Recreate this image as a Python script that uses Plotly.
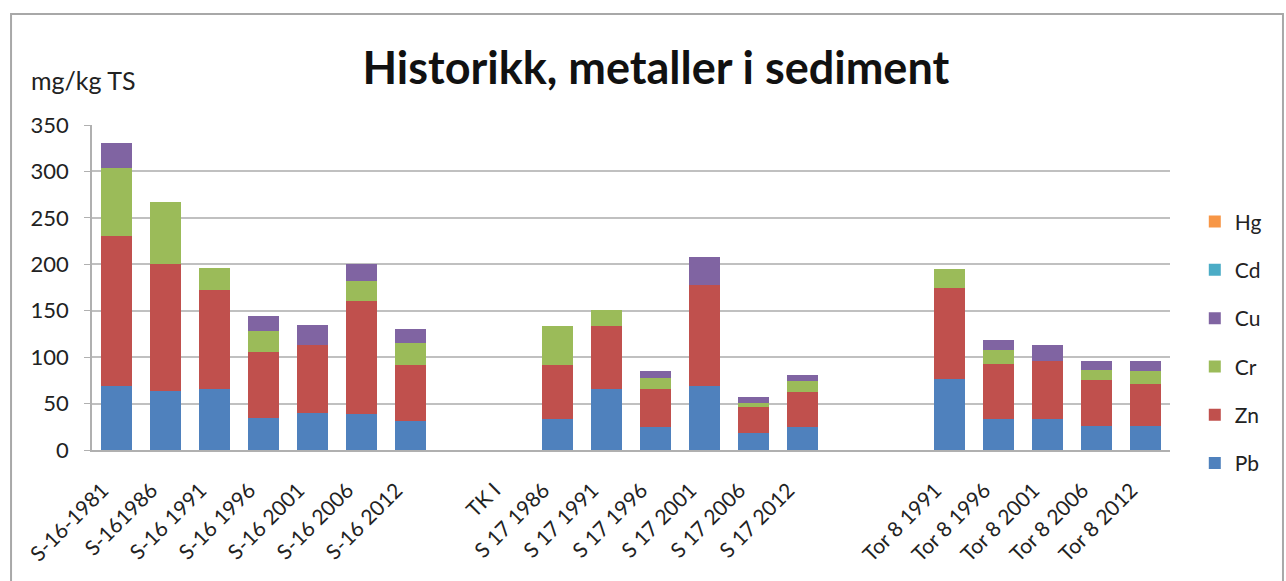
import plotly.graph_objects as go

stations = ["S-16-1981", "S-161986", "S-16 1991", "S-16 1996", "S-16 2001", "S-16 2006", "S-16 2012",
            "", "TK I", "S 17 1986", "S 17 1991", "S 17 1996", "S 17 2001", "S 17 2006", "S 17 2012",
            "", "", "Tor 8 1991", "Tor 8 1996", "Tor 8 2001", "Tor 8 2006", "Tor 8 2012"]

pb = [69, 64, 66, 35, 40, 39, 31, None, None, 33, 66, 25, 69, 18, 25, None, None, 76, 33, 33, 26, 26]
zn = [162, 136, 106, 71, 73, 121, 61, None, None, 59, 68, 41, 109, 28, 38, None, None, 99, 60, 63, 49, 45]
cr = [73, 67, 24, 22, 0, 22, 23, None, None, 42, 17, 12, 0, 5, 11, None, None, 20, 15, 0, 11, 14]
cu = [27, 0, 0, 16, 22, 18, 15, None, None, 0, 0, 7, 30, 6, 7, None, None, 0, 11, 17, 10, 11]
# Cd and Hg are too small to be seen at this scale
cd = [0, 0, 0, 0, 0, 0, 0, None, None, 0, 0, 0, 0, 0, 0, None, None, 0, 0, 0, 0, 0]
hg = [0, 0, 0, 0, 0, 0, 0, None, None, 0, 0, 0, 0, 0, 0, None, None, 0, 0, 0, 0, 0]

series = [("Pb", pb, "#4F81BD"), ("Zn", zn, "#C0504D"), ("Cr", cr, "#9BBB59"),
          ("Cu", cu, "#8064A2"), ("Cd", cd, "#4BACC6"), ("Hg", hg, "#F79646")]

font = "Lato, 'Open Sans', sans-serif"
xpos = list(range(len(stations)))

fig = go.Figure()
for i, (name, vals, col) in enumerate(series):
    fig.add_trace(go.Bar(x=xpos, y=vals, name=name, marker_color=col,
                         marker_line_width=0, legendgroup=name,
                         legendrank=len(series) - i))

fig.update_layout(
    barmode="stack",
    bargap=0.37,
    width=1286, height=581,
    margin=dict(l=92, r=116, t=125, b=131),
    paper_bgcolor="white", plot_bgcolor="white",
    font=dict(family=font, color="#222222"),
    title=dict(text="<b>Historikk, metaller i sediment</b>", x=0.51, xanchor="center",
               y=0.883, yanchor="middle", font=dict(size=45, color="#111111")),
    legend=dict(x=1.023, xanchor="left", y=0.765, yanchor="top",
                traceorder="grouped", tracegroupgap=18,
                font=dict(size=21, color="#222222")),
    showlegend=True,
)

fig.update_xaxes(range=[-0.5, len(stations) - 0.5], tickvals=xpos, ticktext=stations,
                 tickangle=-45, tickfont=dict(size=21, color="#222222"),
                 ticklabelshift=-14, ticklabelstandoff=18,
                 showline=True, linecolor="#B0B0B0", linewidth=1.5, ticks="")
fig.update_yaxes(range=[0, 350], dtick=50, showgrid=True, gridcolor="#C0C0C0", gridwidth=1.5,
                 showline=True, linecolor="#B0B0B0", linewidth=1.5,
                 ticks="outside", ticklen=6, tickcolor="#B0B0B0",
                 tickfont=dict(size=22, color="#222222"), ticklabelstandoff=11)

fig.add_annotation(text="mg/kg TS", xref="paper", yref="paper", x=-0.058, y=1.14,
                   xanchor="left", yanchor="middle", showarrow=False,
                   font=dict(size=25, color="#222222"))

# outer chart border
fig.add_shape(type="rect", xref="paper", yref="paper", x0=-0.0751, x1=1.1048, y0=-0.45, y1=1.3415,
              line=dict(color="#A8A8A8", width=2), fillcolor="rgba(0,0,0,0)", layer="below")

fig.write_html("out.html", config={"displayModeBar": False},
               post_script="document.body.style.margin='0';")
